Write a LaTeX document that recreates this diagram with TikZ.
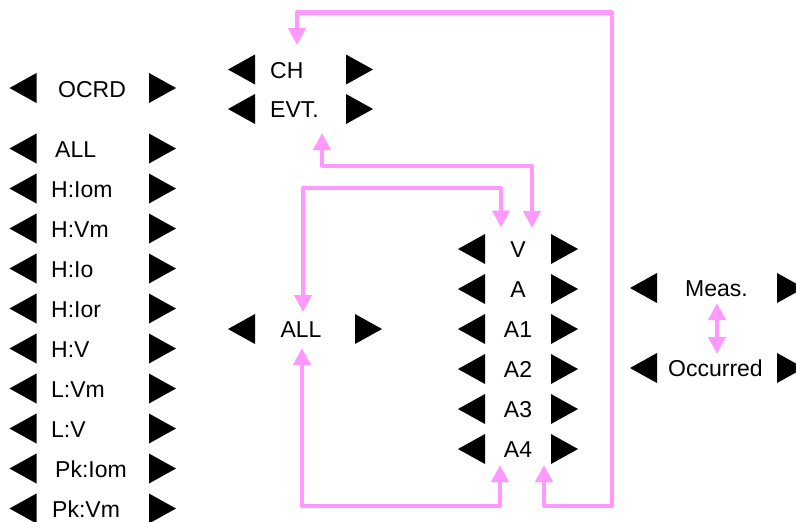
\documentclass[tikz,border=0pt]{standalone}
\usepackage{fontspec}
\setmainfont{Liberation Sans}
\usetikzlibrary{arrows.meta}
\definecolor{pinkline}{HTML}{FF99FF}
\tikzset{
  ltri/.pic={\fill[black] (0,0) -- (27,-15) -- (27,15) -- cycle;},
  rtri/.pic={\fill[black] (0,-15) -- (27,0) -- (0,15) -- cycle;},
  lblw/.style={inner sep=0pt, anchor=base west, font=\fontsize{23}{27}\selectfont},
  lblc/.style={inner sep=0pt, anchor=base, font=\fontsize{23}{27}\selectfont},
  conn/.style={draw=pinkline, line width=4.5pt, line join=round,
    {Triangle[length=17pt,width=17pt,fill=pinkline]}-{Triangle[length=17pt,width=17pt,fill=pinkline]}}
}
\begin{document}
\begin{tikzpicture}[x=1pt,y=-1pt]
\useasboundingbox (0,0) rectangle (796,522);
% left column
\foreach \yc in {88,148.5,188.5,228.5,268.5,308.5,348.5,388.5,428.5,468.5,508.5}{
  \pic at (9.5,\yc) {ltri};
  \pic at (149,\yc) {rtri};
}
\node[lblw] (ocrd) at (58,97) {OCRD};
\node[lblw] (lall) at (55,157) {ALL};
\node[lblw] (hiom) at (51,197) {H:Iom};
\node[lblw] (hvm) at (51,237) {H:Vm};
\node[lblw] (hio) at (51,277) {H:Io};
\node[lblw] (hior) at (51,317) {H:Ior};
\node[lblw] (hv) at (51,357) {H:V};
\node[lblw] (lvm) at (51,397) {L:Vm};
\node[lblw] (lv) at (51,437) {L:V};
\node[lblw] (pkiom) at (55,477) {Pk:Iom};
\node[lblw] (pkvm) at (52,517) {Pk:Vm};
% middle top
\foreach \yc in {69.5,109}{
  \pic at (228,\yc) {ltri};
  \pic at (346,\yc) {rtri};
}
\node[lblw] (ch) at (270,78) {CH};
\node[lblw] (evt) at (270,117.5) {EVT.};
% middle ALL
\pic at (228,329) {ltri};
\pic at (355,329) {rtri};
\node[lblc] (mall) at (301,337.5) {ALL};
% right column
\foreach \yc in {249,289,329,369,409,449}{
  \pic at (458,\yc) {ltri};
  \pic at (551,\yc) {rtri};
}
\node[lblc] (v) at (518,257.5) {V};
\node[lblc] (a) at (518,297.5) {A};
\node[lblc] (a1) at (518,337.5) {A1};
\node[lblc] (a2) at (518,377.5) {A2};
\node[lblc] (a3) at (518,417.5) {A3};
\node[lblc] (a4) at (518,457.5) {A4};
% Meas / Occurred
\foreach \yc in {288,368}{
  \pic at (630,\yc) {ltri};
  \pic at (777,\yc) {rtri};
}
\node[lblw] (meas) at (685,296.5) {Meas.};
\node[lblw] (occ) at (668,376.5) {Occurred};
% connector end points
\coordinate (chT) at (297,45);
\coordinate (evtB) at (322,133);
\coordinate (vT1) at (501,227.5);
\coordinate (vT2) at (532,228);
\coordinate (allT) at (303,312);
\coordinate (allB) at (302,348);
\coordinate (a4L) at (500,465);
\coordinate (a4R) at (544,465);
\coordinate (measB) at (717,303);
\coordinate (occT) at (717,354);
% connectors
\draw[conn] (a4R) |- (612,506) |- (297,12.5) -- (chT);
\draw[conn] (evtB) |- (532,166) -- (vT2);
\draw[conn] (allT) |- (501,188) -- (vT1);
\draw[conn] (allB) |- (500,506) -- (a4L);
\draw[conn] (measB) -- (occT);
\end{tikzpicture}
\end{document}
